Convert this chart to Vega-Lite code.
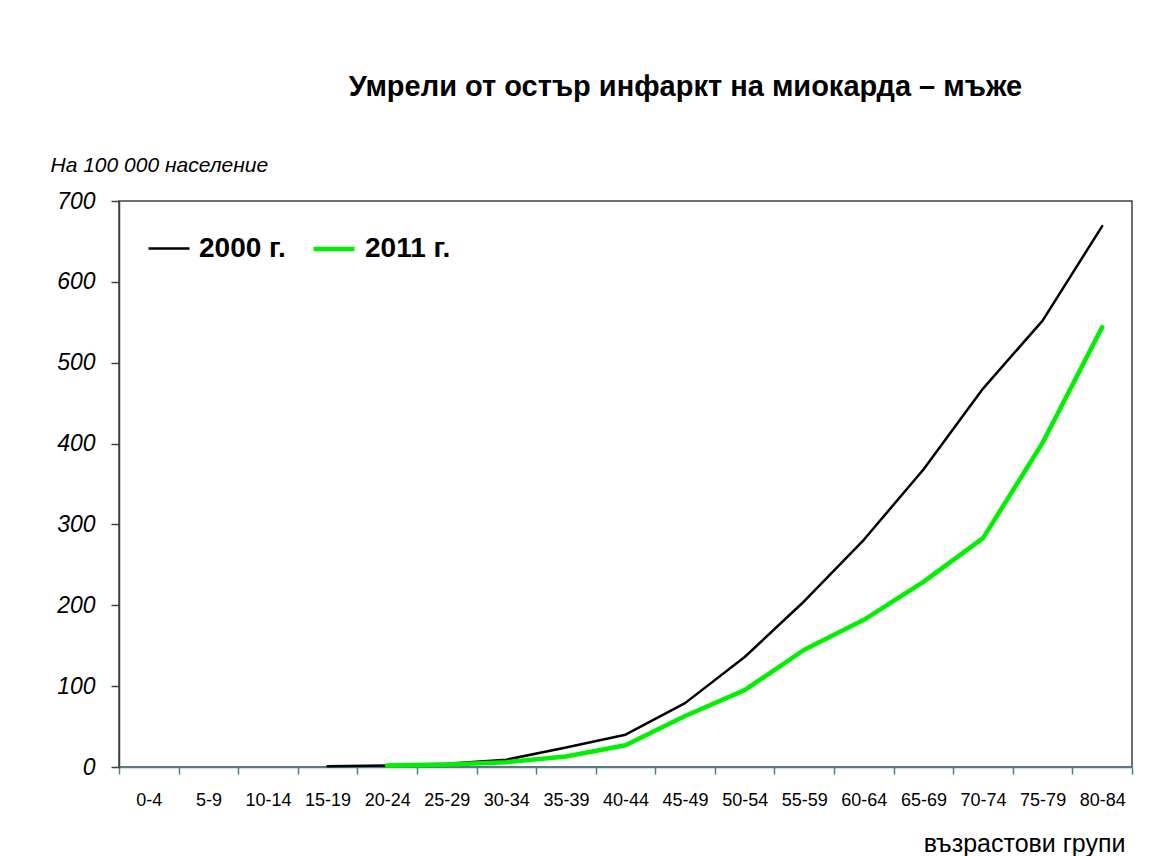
{
  "$schema": "https://vega.github.io/schema/vega-lite/v6.json",
  "width": 1013,
  "height": 566,
  "autosize": "none",
  "padding": {"left": 119, "top": 201, "right": 31, "bottom": 89},
  "background": "white",
  "config": {
    "font": "Liberation Sans",
    "view": {"stroke": "#404040", "strokeWidth": 1.5}
  },
  "title": {
    "text": "Умрели от остър инфаркт на миокарда – мъже",
    "fontSize": 29,
    "fontWeight": "bold",
    "color": "#000000",
    "font": "Liberation Sans",
    "anchor": "middle",
    "dx": 60,
    "offset": 52
  },
  "data": {
    "values": [
      {"age": "15-19", "series": "2000 г.", "value": 1},
      {"age": "20-24", "series": "2000 г.", "value": 2},
      {"age": "25-29", "series": "2000 г.", "value": 4},
      {"age": "30-34", "series": "2000 г.", "value": 9},
      {"age": "35-39", "series": "2000 г.", "value": 24},
      {"age": "40-44", "series": "2000 г.", "value": 40},
      {"age": "45-49", "series": "2000 г.", "value": 79},
      {"age": "50-54", "series": "2000 г.", "value": 136},
      {"age": "55-59", "series": "2000 г.", "value": 205},
      {"age": "60-64", "series": "2000 г.", "value": 281},
      {"age": "65-69", "series": "2000 г.", "value": 368},
      {"age": "70-74", "series": "2000 г.", "value": 468},
      {"age": "75-79", "series": "2000 г.", "value": 552},
      {"age": "80-84", "series": "2000 г.", "value": 669},
      {"age": "20-24", "series": "2011 г.", "value": 2},
      {"age": "25-29", "series": "2011 г.", "value": 3},
      {"age": "30-34", "series": "2011 г.", "value": 6},
      {"age": "35-39", "series": "2011 г.", "value": 13},
      {"age": "40-44", "series": "2011 г.", "value": 27},
      {"age": "45-49", "series": "2011 г.", "value": 63},
      {"age": "50-54", "series": "2011 г.", "value": 95},
      {"age": "55-59", "series": "2011 г.", "value": 145},
      {"age": "60-64", "series": "2011 г.", "value": 182},
      {"age": "65-69", "series": "2011 г.", "value": 229},
      {"age": "70-74", "series": "2011 г.", "value": 283},
      {"age": "75-79", "series": "2011 г.", "value": 401},
      {"age": "80-84", "series": "2011 г.", "value": 544}
    ]
  },
  "mark": {"type": "line", "strokeCap": "round", "strokeJoin": "round"},
  "encoding": {
    "x": {
      "field": "age",
      "type": "nominal",
      "bandPosition": 0.5,
      "sort": ["0-4", "5-9", "10-14", "15-19", "20-24", "25-29", "30-34", "35-39", "40-44", "45-49", "50-54", "55-59", "60-64", "65-69", "70-74", "75-79", "80-84"],
      "scale": {
        "type": "band",
        "domain": ["0-4", "5-9", "10-14", "15-19", "20-24", "25-29", "30-34", "35-39", "40-44", "45-49", "50-54", "55-59", "60-64", "65-69", "70-74", "75-79", "80-84"],
        "paddingInner": 0,
        "paddingOuter": 0
      },
      "axis": {
        "title": "възрастови групи",
        "titleFont": "Liberation Sans",
        "titleFontSize": 25,
        "titleFontWeight": "normal",
        "titleColor": "#000000",
        "titleAnchor": "end",
        "titleAlign": "right",
        "titleBaseline": "middle",
        "titleX": 1006,
        "titleY": 76,
        "labelAngle": 0,
        "labelFont": "Liberation Sans",
        "labelFontSize": 18,
        "labelColor": "#000000",
        "labelPadding": 17,
        "tickBand": "extent",
        "tickSize": 7,
        "tickWidth": 1.5,
        "tickColor": "#4f7f8f",
        "domainColor": "#4f7f8f",
        "domainWidth": 1.5,
        "grid": false
      }
    },
    "y": {
      "field": "value",
      "type": "quantitative",
      "scale": {"domain": [0, 700], "nice": false},
      "axis": {
        "title": "На 100 000 население",
        "titleFont": "Liberation Sans",
        "titleFontSize": 21,
        "titleFontStyle": "italic",
        "titleFontWeight": "normal",
        "titleColor": "#000000",
        "titleAngle": 0,
        "titleAlign": "left",
        "titleBaseline": "middle",
        "titleX": -69,
        "titleY": -36,
        "values": [0, 100, 200, 300, 400, 500, 600, 700],
        "labelFont": "Liberation Sans",
        "labelFontSize": 23,
        "labelFontStyle": "italic",
        "labelColor": "#000000",
        "labelPadding": 16,
        "tickSize": 8,
        "tickWidth": 1.5,
        "tickColor": "#404040",
        "domainColor": "#404040",
        "domainWidth": 1.5,
        "grid": false
      }
    },
    "color": {
      "field": "series",
      "type": "nominal",
      "scale": {"domain": ["2000 г.", "2011 г."], "range": ["#000000", "#00f000"]},
      "legend": {
        "title": null,
        "orient": "none",
        "legendX": 28,
        "legendY": 25,
        "direction": "horizontal",
        "symbolType": "stroke",
        "symbolSize": 1681,
        "labelFont": "Liberation Sans",
        "labelFontSize": 28,
        "labelFontWeight": "bold",
        "labelColor": "#000000",
        "labelOffset": 8,
        "columnPadding": 18
      }
    },
    "strokeWidth": {
      "field": "series",
      "type": "nominal",
      "scale": {"domain": ["2000 г.", "2011 г."], "range": [2.5, 4.5]},
      "legend": {
        "title": null,
        "orient": "none",
        "legendX": 28,
        "legendY": 25,
        "direction": "horizontal",
        "symbolType": "stroke",
        "symbolSize": 1681,
        "labelFont": "Liberation Sans",
        "labelFontSize": 28,
        "labelFontWeight": "bold",
        "labelColor": "#000000",
        "labelOffset": 8,
        "columnPadding": 18
      }
    }
  }
}
